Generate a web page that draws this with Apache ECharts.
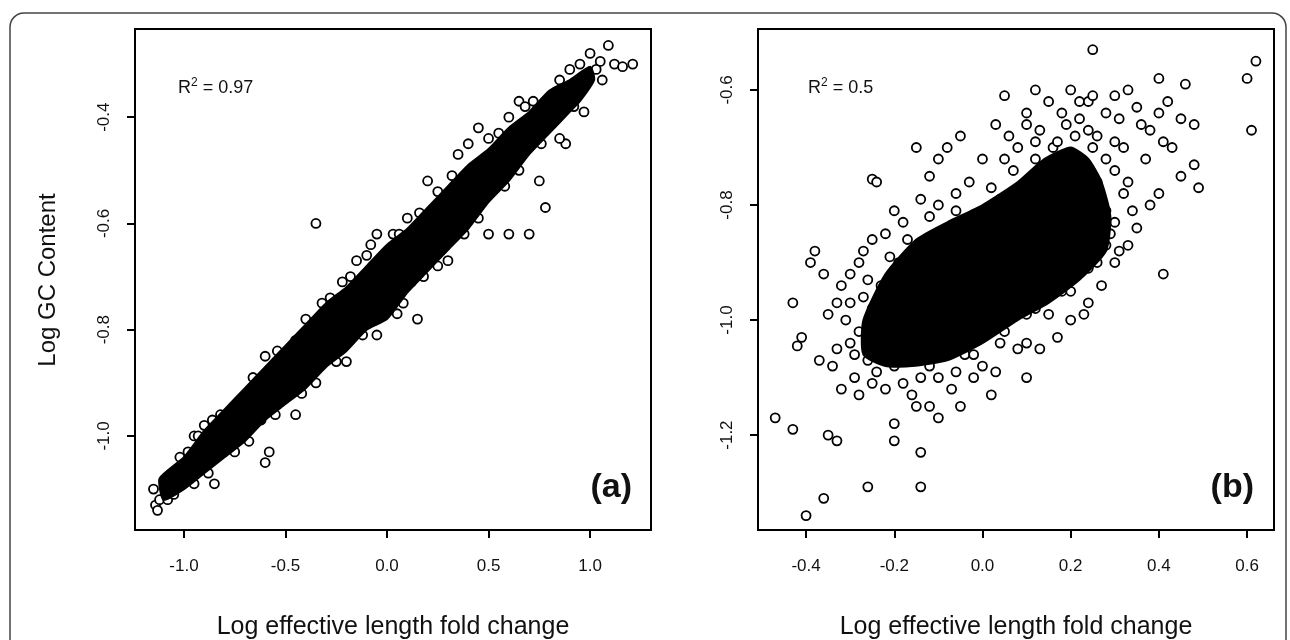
<!DOCTYPE html>
<html>
<head>
<meta charset="utf-8">
<script src="https://cdn.jsdelivr.net/npm/echarts@6/dist/echarts.min.js"></script>
<style>html,body{margin:0;padding:0;background:#fff}#main{width:1290px;height:640px}</style>
</head>
<body>
<div id="main"></div>
<script>
// 面板 (a) 的密集区域轮廓（上沿 -> 下沿）
var blobA = [[-1.12,-1.08],[-1.0,-1.04],[-0.9,-0.99],[-0.8,-0.95],[-0.7,-0.91],[-0.6,-0.87],[-0.5,-0.83],[-0.4,-0.79],[-0.3,-0.75],[-0.2,-0.72],[-0.1,-0.68],[0.0,-0.64],[0.1,-0.61],[0.2,-0.57],[0.3,-0.53],[0.4,-0.49],[0.5,-0.46],[0.6,-0.42],[0.7,-0.39],[0.8,-0.35],[0.9,-0.33],[1.0,-0.305],
  [1.02,-0.33],[0.95,-0.37],[0.9,-0.39],[0.8,-0.43],[0.7,-0.47],[0.6,-0.52],[0.5,-0.56],[0.4,-0.61],[0.3,-0.65],[0.2,-0.69],[0.1,-0.73],[0.0,-0.78],[-0.1,-0.80],[-0.2,-0.84],[-0.3,-0.87],[-0.4,-0.91],[-0.5,-0.94],[-0.6,-0.97],[-0.7,-1.01],[-0.8,-1.04],[-0.9,-1.07],[-1.0,-1.10],[-1.1,-1.12]];
// 面板 (a) 的散点（边缘和离群点）
var pointsA = [[-0.35,-0.60],[-1.15,-1.10],[-1.14,-1.13],[-1.12,-1.12],[-1.13,-1.14],[-1.08,-1.12],[-1.09,-1.09],
  [1.09,-0.265],[1.12,-0.30],[1.21,-0.30],[1.16,-0.305],[1.05,-0.295],[1.0,-0.28],[0.95,-0.30],[1.03,-0.31],[1.06,-0.33],
  [-0.05,-0.62],[-0.08,-0.64],[0.15,-0.78],[-0.6,-0.85],[-0.78,-0.98],[-0.95,-1.0],[-0.62,-0.97],[-0.6,-1.05],[-0.58,-1.03],
  [0.5,-0.62],[0.6,-0.62],[0.75,-0.52],[0.3,-0.67],[0.05,-0.77],[-0.2,-0.86],[-0.45,-0.96],[-0.85,-1.09],[0.88,-0.45],
  [0.4,-0.45],[0.2,-0.52],[-0.15,-0.67],[-0.32,-0.75],[-0.5,-0.85],[0.65,-0.37],[0.45,-0.42],[-0.9,-0.98],[-0.93,-1.0],
  [-0.7,-0.93],[-0.4,-0.78],[-0.28,-0.74],[-0.1,-0.66],[0.1,-0.59],[0.25,-0.54],[0.55,-0.43],[0.72,-0.37],[0.85,-0.33],
  [0.9,-0.31],[0.97,-0.39],[0.85,-0.44],[0.65,-0.5],[0.45,-0.59],[0.25,-0.68],[0.08,-0.75],[-0.05,-0.81],[-0.25,-0.86],
  [-0.35,-0.9],[-0.55,-0.96],[-0.75,-1.03],[-0.95,-1.09],[-1.05,-1.11],[0.7,-0.62],[0.78,-0.57],[0.03,-0.62],[-0.45,-0.82],
  [-0.82,-0.96],[-1.02,-1.04],[0.35,-0.47],[0.6,-0.4],[-0.18,-0.7],[0.12,-0.71],
  [-0.98,-1.03],[-0.86,-0.97],[-0.66,-0.89],[-0.54,-0.84],[-0.22,-0.71],[0.06,-0.62],[0.16,-0.58],[0.32,-0.51],[0.5,-0.44],[0.68,-0.38],
  [-0.88,-1.07],[-0.68,-1.01],[-0.42,-0.92],[-0.12,-0.81],[0.18,-0.7],[0.38,-0.62],[0.58,-0.53],[0.76,-0.45],[0.92,-0.38]];
// 面板 (b) 的密集区域轮廓
var blobB = [[-0.27,-1.0],[-0.22,-0.92],[-0.15,-0.86],[-0.08,-0.83],[0.0,-0.80],[0.08,-0.76],[0.14,-0.72],[0.2,-0.70],[0.24,-0.72],[0.27,-0.76],[0.29,-0.82],
  [0.28,-0.88],[0.22,-0.93],[0.15,-0.97],[0.08,-1.0],[0.0,-1.04],[-0.08,-1.07],[-0.16,-1.08],[-0.22,-1.08],[-0.27,-1.06]];
// 面板 (b) 的散点
var pointsB = [[-0.47,-1.17],[-0.43,-1.19],[-0.4,-1.34],[-0.36,-1.31],[-0.35,-1.20],[-0.33,-1.21],[-0.26,-1.29],[-0.14,-1.29],[-0.14,-1.23],[-0.2,-1.18],[-0.2,-1.21],[-0.12,-1.15],[-0.15,-1.15],[-0.1,-1.17],[-0.05,-1.15],[0.02,-1.13],[0.1,-1.10],[0.13,-1.05],
  [-0.43,-0.97],[-0.41,-1.03],[-0.42,-1.045],[-0.39,-0.90],[-0.38,-0.88],[-0.36,-0.92],[-0.35,-0.99],[-0.33,-1.05],[-0.34,-1.08],[-0.37,-1.07],[-0.32,-1.12],[-0.29,-1.1],[-0.3,-0.92],[-0.28,-0.9],[-0.25,-0.755],[-0.24,-0.76],[-0.25,-0.86],[-0.22,-0.85],[-0.18,-0.83],
  [-0.15,-0.7],[-0.12,-0.75],[-0.1,-0.72],[-0.1,-0.8],[-0.06,-0.78],[-0.05,-0.68],[-0.08,-0.7],[0.0,-0.72],[0.03,-0.66],[0.05,-0.61],[0.06,-0.68],[0.08,-0.7],[0.1,-0.64],[0.1,-0.66],[0.12,-0.6],[0.13,-0.67],[0.15,-0.62],[0.16,-0.7],[0.18,-0.64],[0.2,-0.6],[0.22,-0.62],[0.22,-0.65],[0.24,-0.62],[0.25,-0.53],[0.25,-0.61],[0.26,-0.68],[0.28,-0.64],[0.3,-0.61],[0.31,-0.65],[0.32,-0.7],[0.33,-0.6],[0.35,-0.63],[0.36,-0.66],[0.37,-0.72],[0.38,-0.67],[0.4,-0.58],[0.4,-0.64],[0.41,-0.69],[0.42,-0.62],[0.43,-0.7],[0.45,-0.65],[0.45,-0.75],[0.46,-0.59],[0.48,-0.66],[0.49,-0.77],[0.48,-0.73],[0.41,-0.92],[0.6,-0.58],[0.62,-0.55],[0.61,-0.67],
  [0.35,-0.84],[0.38,-0.8],[0.4,-0.78],[0.33,-0.87],[0.3,-0.9],[0.32,-0.78],[0.3,-0.74],[0.28,-0.72],[0.27,-0.94],[0.24,-0.97],[0.2,-1.0],[0.17,-1.03],[0.15,-0.99],[0.08,-1.05],[0.03,-1.09],[-0.02,-1.1],[-0.07,-1.12],[-0.1,-1.1],[-0.18,-1.11],[-0.22,-1.12],[-0.25,-1.11],[-0.29,-1.06],[-0.31,-1.0],[-0.3,-0.97],[-0.27,-0.96],[-0.26,-0.93],[-0.21,-0.89],[-0.17,-0.86],[-0.12,-0.82],[-0.06,-0.81],[0.02,-0.77],[0.07,-0.74],[0.12,-0.72],[0.17,-0.69],[0.21,-0.68],[0.25,-0.7],[0.27,-0.79],[0.29,-0.85],[0.26,-0.9],[0.2,-0.95],[0.12,-0.98],[0.05,-1.02],[-0.04,-1.06],[-0.12,-1.08],[-0.2,-1.08],[-0.26,-1.07],
  [-0.28,-1.02],[-0.25,-0.98],[-0.23,-0.94],[-0.19,-0.9],[-0.14,-0.88],[-0.1,-0.85],[-0.03,-0.83],[0.04,-0.79],[0.1,-0.76],[0.15,-0.74],[0.19,-0.72],[0.23,-0.74],[0.26,-0.76],[0.28,-0.81],[0.3,-0.83],[0.28,-0.87],[0.24,-0.91],[0.18,-0.95],[0.1,-0.99],[0.04,-1.04],[-0.02,-1.06],[-0.06,-1.09],[-0.14,-1.1],[-0.24,-1.09],[-0.3,-1.04],
  [-0.33,-0.97],[-0.32,-0.94],[-0.27,-0.88],[-0.2,-0.81],[-0.14,-0.79],[-0.03,-0.76],[0.05,-0.72],[0.12,-0.69],[0.19,-0.66],[0.24,-0.67],[0.3,-0.69],[0.33,-0.76],[0.34,-0.81],[0.31,-0.88],[0.23,-0.99],[0.1,-1.04],[0.0,-1.08],[-0.16,-1.13],[-0.28,-1.13]];

var ticksAX = [-1.0, -0.5, 0.0, 0.5, 1.0];
var ticksAY = [-1.0, -0.8, -0.6, -0.4];
var ticksBX = [-0.4, -0.2, 0.0, 0.2, 0.4, 0.6];
var ticksBY = [-1.2, -1.0, -0.8, -0.6];

var font = 'Liberation Sans, Arial, sans-serif';
var myChart = echarts.init(document.getElementById('main'));

// 密集区域画在散点上面，边缘的圆圈只露出一半
function blobSeries(idx, data) {
    return {
        type: 'custom', xAxisIndex: idx, yAxisIndex: idx, data: data, z: 3,
        renderItem: function (params, api) {
            if (params.dataIndex !== 0) return;
            var pts = data.map(function (d) { return api.coord(d); });
            return {type: 'polygon', shape: {points: pts, smooth: 0.2}, style: {fill: '#000', stroke: '#000', lineWidth: 2}};
        }
    };
}
function dotSeries(idx, data) {
    return {
        type: 'scatter', xAxisIndex: idx, yAxisIndex: idx, data: data, z: 2,
        symbol: 'circle', symbolSize: 9,
        itemStyle: {color: '#fff', borderColor: '#000', borderWidth: 1.8, opacity: 1}
    };
}
function xAx(idx, min, max, ticks) {
    return {
        type: 'value', gridIndex: idx, min: min, max: max,
        axisLine: {show: false, onZero: false},
        axisTick: {show: true, length: 8, lineStyle: {color: '#000', width: 2}, customValues: ticks},
        axisLabel: {show: true, customValues: ticks, margin: 28, fontSize: 17, color: '#111', fontFamily: font,
            formatter: function (v) { return v.toFixed(1); }},
        splitLine: {show: false}
    };
}
function yAx(idx, min, max, ticks) {
    return {
        type: 'value', gridIndex: idx, min: min, max: max,
        axisLine: {show: false, onZero: false},
        axisTick: {show: true, length: 8, lineStyle: {color: '#000', width: 2}, customValues: ticks},
        axisLabel: {show: true, customValues: ticks, rotate: 90, margin: 22, fontSize: 17, color: '#111', fontFamily: font,
            formatter: function (v) { return v.toFixed(1); }},
        splitLine: {show: false}
    };
}

myChart.setOption({
    backgroundColor: '#fff',
    animation: false,
    grid: [
        {left: 135, top: 29, width: 516, height: 501, show: true, borderColor: '#000', borderWidth: 2, backgroundColor: 'transparent'},
        {left: 758, top: 29, width: 516, height: 501, show: true, borderColor: '#000', borderWidth: 2, backgroundColor: 'transparent'}
    ],
    xAxis: [xAx(0, -1.241, 1.30, ticksAX), xAx(1, -0.509, 0.661, ticksBX)],
    yAxis: [yAx(0, -1.177, -0.234, ticksAY), yAx(1, -1.365, -0.494, ticksBY)],
    series: [blobSeries(0, blobA), dotSeries(0, pointsA), blobSeries(1, blobB), dotSeries(1, pointsB)],
    graphic: [
        {type: 'rect', shape: {x: 10, y: 13, width: 1276, height: 660, r: 14}, style: {fill: 'none', stroke: '#444', lineWidth: 1.5}, silent: true},
        {type: 'text', x: 48, y: 280, rotation: Math.PI / 2, style: {text: 'Log GC Content', font: '24px ' + font, fill: '#111', textAlign: 'center', textVerticalAlign: 'middle'}},
        {type: 'text', x: 393, y: 627, style: {text: 'Log effective length fold change', font: '25px ' + font, fill: '#111', textAlign: 'center', textVerticalAlign: 'middle'}},
        {type: 'text', x: 1016, y: 627, style: {text: 'Log effective length fold change', font: '25px ' + font, fill: '#111', textAlign: 'center', textVerticalAlign: 'middle'}},
        {type: 'text', x: 178, y: 88, style: {text: '{b|R}{s|2}{b| = 0.97}', textVerticalAlign: 'middle',
            rich: {b: {font: '18px ' + font, fill: '#111'}, s: {font: '12px ' + font, fill: '#111', verticalAlign: 'top', padding: [0, 0, 10, 0]}}}},
        {type: 'text', x: 808, y: 88, style: {text: '{b|R}{s|2}{b| = 0.5}', textVerticalAlign: 'middle',
            rich: {b: {font: '18px ' + font, fill: '#111'}, s: {font: '12px ' + font, fill: '#111', verticalAlign: 'top', padding: [0, 0, 10, 0]}}}},
        {type: 'text', x: 632, y: 488, style: {text: '(a)', font: 'bold 34px ' + font, fill: '#111', textAlign: 'right', textVerticalAlign: 'middle'}},
        {type: 'text', x: 1254, y: 488, style: {text: '(b)', font: 'bold 34px ' + font, fill: '#111', textAlign: 'right', textVerticalAlign: 'middle'}}
    ]
});
</script>
</body>
</html>
